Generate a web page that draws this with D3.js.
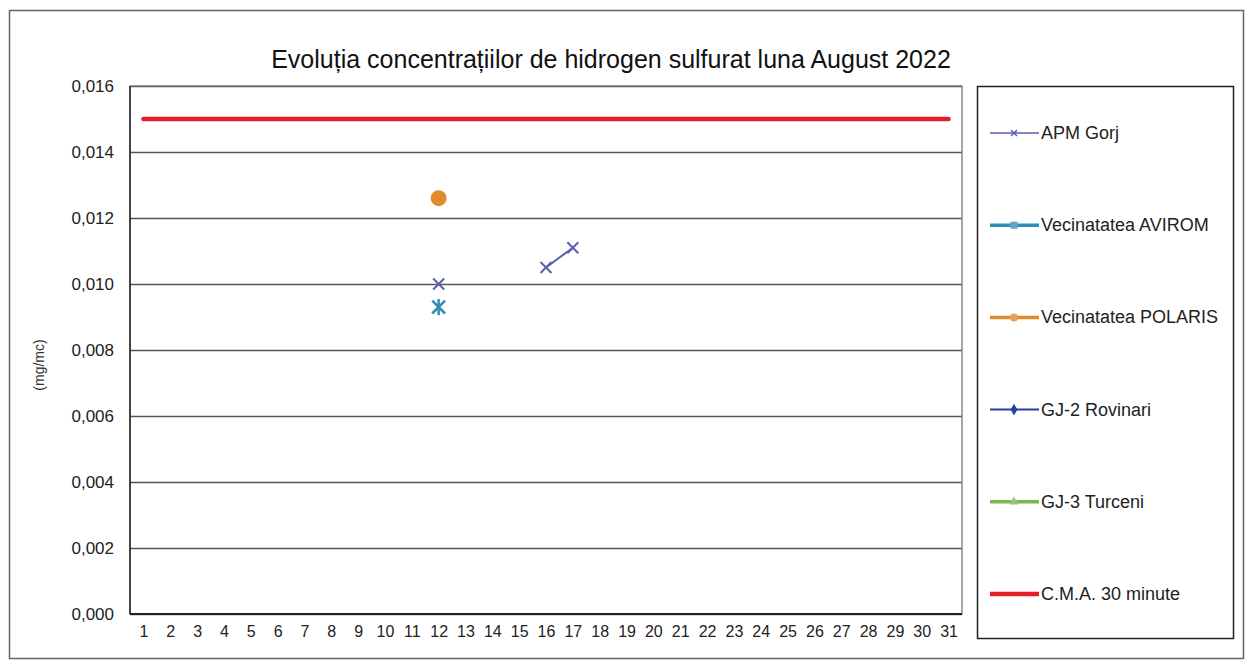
<!DOCTYPE html>
<html>
<head>
<meta charset="utf-8">
<script src="https://cdn.jsdelivr.net/npm/d3@7"></script>
<style>
  body { margin: 0; background: #fff; }
  svg { font-family: "Liberation Sans", Arial, sans-serif; }
</style>
</head>
<body>
<div id="chart"></div>
<script>
// days of August
const days = d3.range(1, 32);
const yTicks = [0, 0.002, 0.004, 0.006, 0.008, 0.010, 0.012, 0.014, 0.016];

// measured values (mg/mc), null = no measurement
const apmGorj = days.map(d => ({12: 0.0100, 16: 0.0105, 17: 0.0111})[d] ?? null);
const avirom = days.map(d => ({12: 0.0093})[d] ?? null);
const polaris = days.map(d => ({12: 0.0126})[d] ?? null);
const rovinari = days.map(() => null);
const turceni = days.map(() => null);
const cma = days.map(() => 0.015);

const seriesNames = ["APM Gorj", "Vecinatatea AVIROM", "Vecinatatea POLARIS", "GJ-2 Rovinari", "GJ-3 Turceni", "C.M.A. 30 minute"];
const seriesColors = ["#5a5fae", "#2f8db6", "#e08c2e", "#23429e", "#7db84c", "#e3202a"];

const width = 1249, height = 666;
const svg = d3.select("#chart").append("svg")
  .attr("width", width)
  .attr("height", height);

// outer frame
svg.append("rect")
  .attr("x", 9.5).attr("y", 10.5)
  .attr("width", 1234).attr("height", 648)
  .attr("fill", "none").attr("stroke", "#666").attr("stroke-width", 1.5);

// title
svg.append("text")
  .attr("x", 611).attr("y", 68)
  .attr("text-anchor", "middle")
  .style("font-size", "25px")
  .attr("fill", "#111")
  .text("Evoluția concentrațiilor de hidrogen sulfurat luna August 2022");

const plot = { left: 130, right: 962, top: 86, bottom: 614 };

const x = d3.scalePoint()
  .domain(days)
  .range([plot.left, plot.right])
  .padding(0.5);

const y = d3.scaleLinear()
  .domain([0, 0.016])
  .range([plot.bottom, plot.top]);

// gridlines + y axis labels
const yAxis = svg.append("g")
  .attr("transform", `translate(${plot.left},0)`)
  .call(d3.axisLeft(y)
    .tickValues(yTicks)
    .tickSize(-(plot.right - plot.left))
    .tickPadding(16)
    .tickFormat(d => d3.format(".3f")(d).replace(".", ",")));
yAxis.select(".domain").remove();
yAxis.selectAll(".tick line").attr("stroke", "#555").attr("stroke-width", 1.3);
yAxis.selectAll(".tick text").style("font-size", "17px").attr("fill", "#222");

// plot frame
svg.append("rect")
  .attr("x", plot.left).attr("y", plot.top)
  .attr("width", plot.right - plot.left).attr("height", plot.bottom - plot.top)
  .attr("fill", "none").attr("stroke", "#777").attr("stroke-width", 1.3);
svg.append("line")
  .attr("x1", plot.left).attr("x2", plot.left)
  .attr("y1", plot.top).attr("y2", plot.bottom)
  .attr("stroke", "#222").attr("stroke-width", 1.5);
svg.append("line")
  .attr("x1", plot.left).attr("x2", plot.right)
  .attr("y1", plot.bottom).attr("y2", plot.bottom)
  .attr("stroke", "#222").attr("stroke-width", 1.8);

// x axis labels
const xAxis = svg.append("g")
  .attr("transform", `translate(0,${plot.bottom})`)
  .call(d3.axisBottom(x).tickSize(0).tickPadding(12));
xAxis.select(".domain").remove();
xAxis.selectAll(".tick text").style("font-size", "16px").attr("fill", "#222");

// y axis title
svg.append("text")
  .attr("transform", "translate(44,365) rotate(-90)")
  .attr("text-anchor", "middle")
  .style("font-size", "14px")
  .attr("fill", "#333")
  .text("(mg/mc)");

const line = d3.line()
  .defined(d => d != null)
  .x((d, i) => x(days[i]))
  .y(d => y(d));

// C.M.A. limit line
svg.append("path")
  .attr("d", line(cma))
  .attr("fill", "none")
  .attr("stroke", seriesColors[5])
  .attr("stroke-width", 4.5)
  .attr("stroke-linecap", "round");

// APM Gorj
svg.append("path")
  .attr("d", line(apmGorj))
  .attr("fill", "none")
  .attr("stroke", seriesColors[0])
  .attr("stroke-width", 2);

function markerX(g, cx, cy, s, color, w) {
  g.append("path")
    .attr("d", `M${cx - s},${cy - s}L${cx + s},${cy + s}M${cx - s},${cy + s}L${cx + s},${cy - s}`)
    .attr("stroke", color).attr("stroke-width", w).attr("fill", "none");
}
function markerStar(g, cx, cy, s, color, w) {
  markerX(g, cx, cy, s * 0.8, color, w);
  g.append("path")
    .attr("d", `M${cx},${cy - s}L${cx},${cy + s}`)
    .attr("stroke", color).attr("stroke-width", w);
}

const marks = svg.append("g");
apmGorj.forEach((v, i) => { if (v != null) markerX(marks, x(days[i]), y(v), 5.5, seriesColors[0], 2); });
avirom.forEach((v, i) => { if (v != null) markerStar(marks, x(days[i]), y(v), 8, seriesColors[1], 2.5); });
polaris.forEach((v, i) => {
  if (v != null) marks.append("circle").attr("cx", x(days[i])).attr("cy", y(v)).attr("r", 8).attr("fill", seriesColors[2]);
});

// legend
const legend = svg.append("g");
legend.append("rect")
  .attr("x", 977.5).attr("y", 86.5)
  .attr("width", 256).attr("height", 552)
  .attr("fill", "none").attr("stroke", "#222").attr("stroke-width", 1.5);

const legendY = d3.scalePoint().domain(seriesNames).range([133, 594]);
const lineW = [1.5, 3.5, 3.5, 2, 3.5, 4.5];

seriesNames.forEach((name, i) => {
  const ly = legendY(name);
  const g = legend.append("g");
  g.append("line")
    .attr("x1", 990).attr("x2", 1039)
    .attr("y1", ly).attr("y2", ly)
    .attr("stroke", seriesColors[i]).attr("stroke-width", lineW[i]);
  const cx = 1014;
  if (i === 0) markerX(g, cx, ly, 3, seriesColors[i], 1.5);
  if (i === 1) g.append("rect").attr("x", cx - 3.5).attr("y", ly - 3.5).attr("width", 7).attr("height", 7).attr("fill", "#5fa6c4");
  if (i === 2) g.append("circle").attr("cx", cx).attr("cy", ly).attr("r", 4).attr("fill", "#e6a05a");
  if (i === 3) g.append("path").attr("d", d3.symbol(d3.symbolDiamond, 40)()).attr("transform", `translate(${cx},${ly})`).attr("fill", seriesColors[i]);
  if (i === 4) g.append("path").attr("d", d3.symbol(d3.symbolTriangle, 36)()).attr("transform", `translate(${cx},${ly})`).attr("fill", "#9cc46e");
  g.append("text")
    .attr("x", 1041).attr("y", ly + 6)
    .style("font-size", "18px")
    .attr("fill", "#222")
    .text(name);
});
</script>
</body>
</html>
